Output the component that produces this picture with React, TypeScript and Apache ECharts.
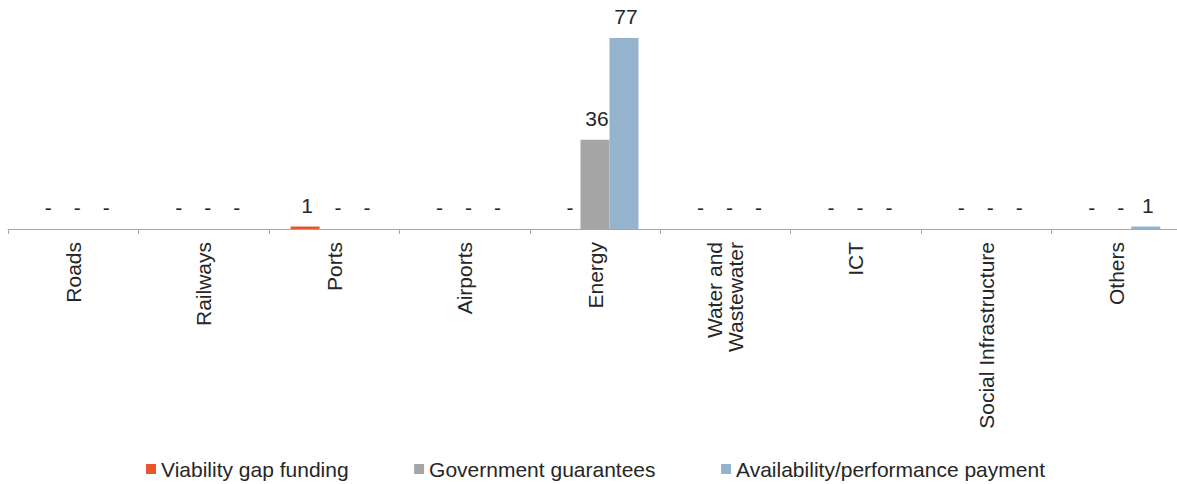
import React, { useEffect, useRef } from "react";
import * as echarts from "echarts";

const categories = [
  "Roads",
  "Railways",
  "Ports",
  "Airports",
  "Energy",
  "Water and Wastewater",
  "ICT",
  "Social Infrastructure",
  "Others",
];
const viabilityGapFunding = [0, 0, 1, 0, 0, 0, 0, 0, 0];
const governmentGuarantees = [0, 0, 0, 0, 36, 0, 0, 0, 0];
const availabilityPayment = [0, 0, 0, 0, 77, 0, 0, 0, 1];

const seriesNames = [
  "Viability gap funding",
  "Government guarantees",
  "Availability/performance payment",
];
const colors = ["#e9542f", "#a6a6a6", "#95b3cc"];

const FONT = "'Liberation Sans', Arial, sans-serif";
const TEXT = "#262626";

export default function App() {
  const ref = useRef<HTMLDivElement>(null);
  useEffect(() => {
    if (!ref.current) return;
    const chart = echarts.init(ref.current, null, { renderer: "svg" });
    const values = [viabilityGapFunding, governmentGuarantees, availabilityPayment];
    chart.setOption({
      animation: false,
      grid: { left: 8, right: 0, top: 30.6, bottom: 255, containLabel: false },
      legend: {
        left: 141,
        top: 453.5,
        itemWidth: 10,
        itemHeight: 10,
        itemGap: 65.5,
        icon: "rect",
        textStyle: { fontFamily: FONT, fontSize: 21, color: TEXT },
        data: seriesNames,
      },
      xAxis: {
        type: "category",
        data: categories,
        boundaryGap: true,
        axisLine: { lineStyle: { color: "#a6a6a6", width: 1 } },
        axisTick: { show: true, length: 5, lineStyle: { color: "#a6a6a6" } },
        axisLabel: {
          rotate: 90,
          margin: 13,
          interval: 0,
          fontFamily: FONT,
          fontSize: 21,
          color: TEXT,
          formatter: (v: string) => (v === "Water and Wastewater" ? "Water and\nWastewater" : v),
        },
      },
      yAxis: {
        type: "value",
        min: 0,
        max: 80,
        show: false,
        splitLine: { show: false },
      },
      series: seriesNames.map((name, i) => ({
        name,
        type: "bar",
        data: values[i].map((v) =>
          v === 0 ? { value: v, label: { offset: [4, 0] } } : { value: v, label: { offset: [2, 0] } }
        ),
        barGap: "0%",
        barCategoryGap: "33.3%",
        itemStyle: { color: colors[i] },
        label: {
          show: true,
          position: "top",
          distance: 11,
          fontFamily: FONT,
          fontSize: 21,
          color: TEXT,
          formatter: (p: any) => (p.value === 0 ? "-" : String(p.value)),
        },
      })),
    });
    return () => chart.dispose();
  }, []);
  return (
    <div style={{ position: "absolute", left: 0, top: 0, width: 1177, height: 484, overflow: "hidden", background: "#fff" }}>
      <div ref={ref} style={{ position: "absolute", left: 0, top: 0, width: 1182, height: 484 }} />
    </div>
  );
}
